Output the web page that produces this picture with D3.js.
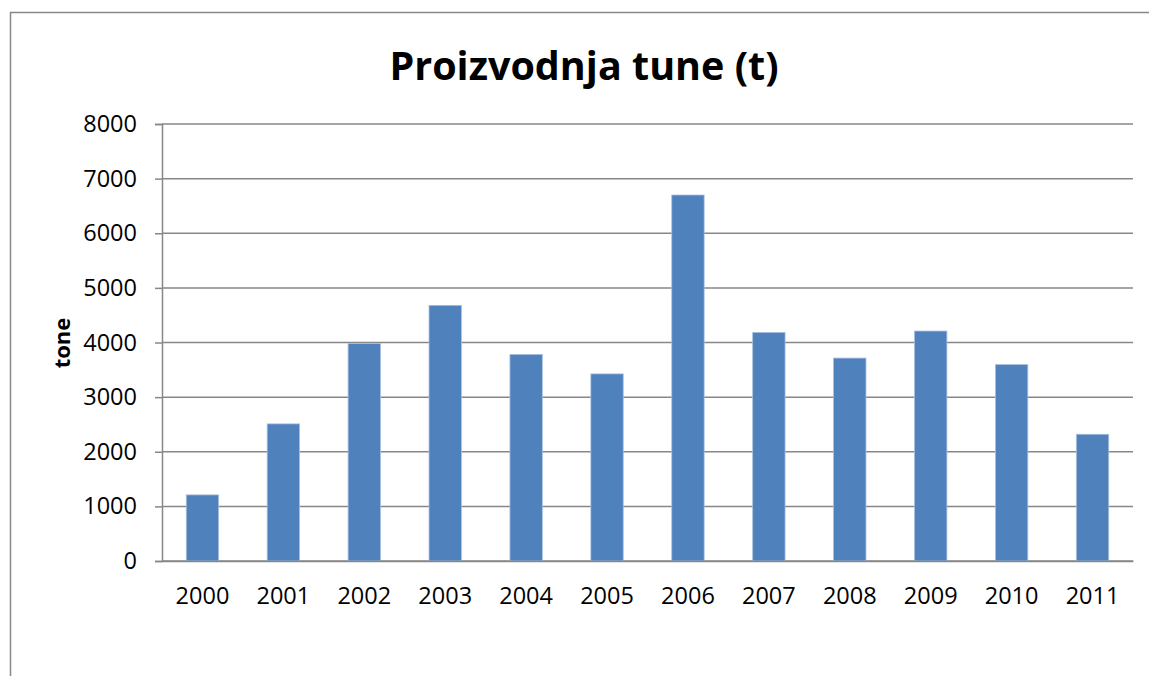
<!DOCTYPE html>
<html lang="hr">
<head>
    <meta charset="UTF-8">
    <title>Proizvodnja tune (t)</title>
    <script src="https://d3js.org/d3.v7.min.js"></script>
    <style>
        body {
            margin: 0;
            background-color: #ffffff;
            font-family: "Open Sans", "Noto Sans", sans-serif;
        }
        .axis text {
            fill: #000;
        }
    </style>
</head>
<body>
    <svg id="chart" width="1149" height="676"></svg>

    <script>
        // data
        const years = ["2000", "2001", "2002", "2003", "2004", "2005",
                       "2006", "2007", "2008", "2009", "2010", "2011"];
        const tonnes = [1210, 2510, 3980, 4680, 3780, 3425,
                        6700, 4185, 3715, 4210, 3595, 2320];
        const yTicks = [0, 1000, 2000, 3000, 4000, 5000, 6000, 7000, 8000];

        const svg = d3.select("#chart");
        const margin = { top: 124, right: 16, bottom: 115, left: 162 };
        const width = 1149 - margin.left - margin.right;
        const height = 676 - margin.top - margin.bottom;

        // outer chart border (only top and left edges visible)
        svg.append("rect")
            .attr("x", 10.5)
            .attr("y", 12.5)
            .attr("width", 1200)
            .attr("height", 700)
            .attr("fill", "none")
            .attr("stroke", "#888888")
            .attr("stroke-width", 1.5);

        const x = d3.scaleBand()
            .domain(years)
            .range([0, width])
            .paddingInner(0.6)
            .paddingOuter(0.3);

        const y = d3.scaleLinear()
            .domain([0, 8000])
            .range([height, 0]);

        const g = svg.append("g")
            .attr("transform", `translate(${margin.left},${margin.top})`);

        // gridlines
        g.append("g")
            .selectAll("line")
            .data(yTicks)
            .enter().append("line")
            .attr("x1", 0)
            .attr("x2", width)
            .attr("y1", d => y(d))
            .attr("y2", d => y(d))
            .attr("stroke", "#878787")
            .attr("stroke-width", 1.5);

        // bars
        g.selectAll(".bar")
            .data(years.map((yr, i) => ({ year: yr, value: tonnes[i] })))
            .enter().append("rect")
            .attr("class", "bar")
            .attr("x", d => x(d.year))
            .attr("y", d => y(d.value))
            .attr("width", x.bandwidth())
            .attr("height", d => height - y(d.value))
            .attr("fill", "#4F81BD")
            .attr("stroke", "#A7BFDE")
            .attr("stroke-width", 0.8);

        // y axis
        const yAxis = g.append("g")
            .attr("class", "axis")
            .call(d3.axisLeft(y).tickValues(yTicks).tickSize(7).tickPadding(18).tickFormat(d3.format("d")));
        yAxis.select(".domain").attr("stroke", "#878787").attr("stroke-width", 1.5);
        yAxis.selectAll(".tick line").attr("stroke", "#878787").attr("stroke-width", 1.5);
        yAxis.selectAll("text")
            .style("font-family", "'Open Sans', sans-serif")
            .style("font-size", "23.5px");

        // x axis
        const xAxis = g.append("g")
            .attr("class", "axis")
            .attr("transform", `translate(0,${height})`)
            .call(d3.axisBottom(x).tickSize(0).tickPadding(26));
        xAxis.select(".domain").attr("stroke", "#878787").attr("stroke-width", 1.5);
        xAxis.selectAll("text")
            .style("font-family", "'Open Sans', sans-serif")
            .style("font-size", "23.5px");

        // title
        svg.append("text")
            .attr("x", 584)
            .attr("y", 80)
            .attr("text-anchor", "middle")
            .style("font-family", "'Open Sans', sans-serif")
            .style("font-weight", "bold")
            .style("font-size", "39.5px")
            .text("Proizvodnja tune (t)");

        // y axis title
        svg.append("text")
            .attr("transform", "translate(70,343) rotate(-90)")
            .attr("text-anchor", "middle")
            .style("font-family", "'Open Sans', sans-serif")
            .style("font-weight", "bold")
            .style("font-size", "22px")
            .text("tone");
    </script>
</body>
</html>
